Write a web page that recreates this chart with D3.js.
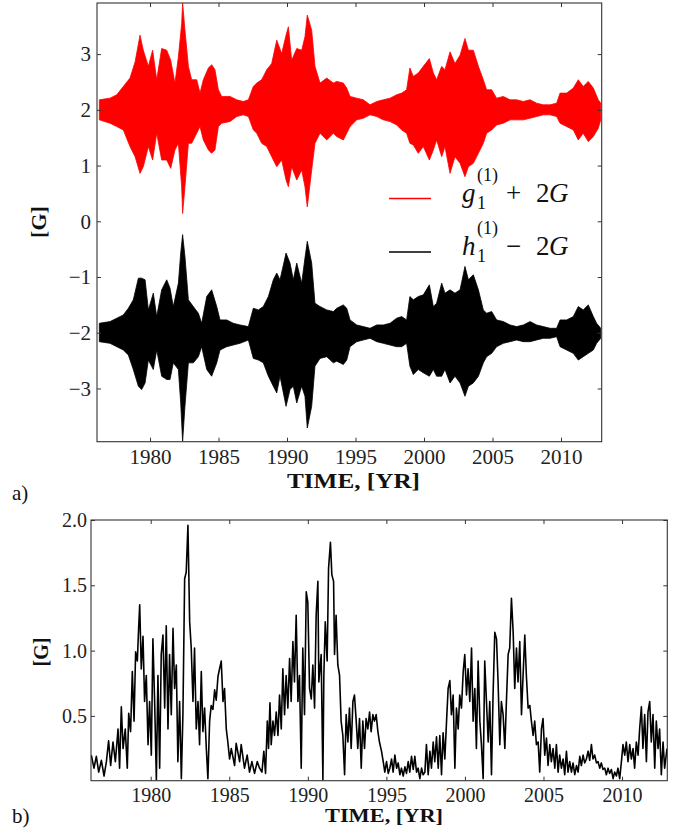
<!DOCTYPE html>
<html>
<head>
<meta charset="utf-8">
<script src="https://cdn.jsdelivr.net/npm/d3@7"></script>
<style>
body { margin: 0; background: #fff; }
#canvas svg { display: block; }
</style>
</head>
<body>
<div id="canvas"></div>
<script>
// ----------------------------------------------------------
// DATA -----------------------------------------------------
// ----------------------------------------------------------

// panel a) : envelope (upper / lower) of g1 + 2G
var gYears = [1976.30,1977.08,1977.57,1978.05,1978.54,1978.91,1979.27,1979.51,1979.88,1980.19,
1980.49,1980.85,1981.22,1981.51,1981.82,1982.07,1982.31,1982.38,1982.55,1982.80,
1983.04,1983.41,1983.65,1983.89,1984.26,1984.50,1984.74,1984.99,1985.23,1985.84,
1986.33,1986.81,1987.18,1987.54,1987.79,1988.15,1988.52,1988.88,1989.25,1989.61,
1989.93,1990.10,1990.34,1990.71,1991.07,1991.31,1991.48,1991.80,1992.04,1992.41,
1992.90,1993.38,1993.63,1994.11,1994.36,1994.60,1995.09,1995.57,1996.06,1996.55,
1997.03,1997.52,1998.00,1998.37,1998.73,1998.97,1999.22,1999.58,1999.95,2000.39,
2000.68,2000.92,2001.29,2001.53,2001.90,2002.26,2002.63,2002.99,2003.24,2003.60,
2003.97,2004.33,2004.57,2004.94,2005.30,2005.79,2006.28,2006.76,2007.25,2007.74,
2008.22,2008.71,2009.20,2009.68,2009.93,2010.41,2010.90,2011.26,2011.62,2011.99,
2012.36,2012.72,2012.90];
var gHi = [2.18,2.21,2.27,2.42,2.57,2.86,3.34,3.07,2.78,3.07,
2.54,3.10,3.07,2.89,2.48,2.95,3.55,3.92,3.43,2.78,
2.54,2.54,2.30,2.54,2.75,2.81,2.72,2.36,2.24,2.24,
2.18,2.15,2.18,2.42,2.48,2.54,2.72,2.83,3.25,3.01,
3.34,3.49,2.89,3.10,3.07,3.31,3.70,3.43,2.78,2.48,
2.57,2.48,2.51,2.48,2.39,2.24,2.21,2.18,2.09,2.15,
2.18,2.21,2.27,2.30,2.36,2.75,2.60,2.66,2.78,2.92,
2.66,2.54,2.78,2.72,3.04,2.83,2.98,3.28,3.07,3.07,
2.78,2.54,2.36,2.36,2.21,2.24,2.18,2.18,2.15,2.18,
2.12,2.09,2.09,2.12,2.30,2.30,2.39,2.54,2.42,2.51,
2.39,2.18,2.12];
var gLo = [1.82,1.76,1.70,1.64,1.34,1.16,0.86,0.98,1.34,1.10,
1.58,1.10,1.10,0.95,1.28,1.40,0.62,0.14,0.62,1.40,
1.40,1.58,1.70,1.46,1.28,1.22,1.28,1.70,1.76,1.79,
1.88,1.91,1.88,1.64,1.58,1.40,1.34,1.16,0.98,1.10,
0.74,0.62,0.98,0.74,0.92,0.62,0.26,0.92,1.40,1.58,
1.46,1.58,1.52,1.46,1.58,1.70,1.82,1.85,1.91,1.88,
1.82,1.79,1.73,1.64,1.58,1.40,1.37,1.22,1.34,1.10,
1.28,1.46,1.16,1.34,0.86,1.16,1.04,0.80,0.98,1.04,
1.22,1.40,1.58,1.64,1.73,1.76,1.82,1.82,1.82,1.85,
1.88,1.91,1.91,1.88,1.76,1.70,1.64,1.46,1.58,1.43,
1.52,1.67,1.82];

// panel a) : envelope of h1 - 2G
var hYears = [1976.30,1977.08,1977.57,1978.05,1978.42,1978.78,1979.15,1979.39,1979.64,1979.88,
1980.24,1980.49,1980.85,1981.22,1981.46,1981.70,1982.07,1982.24,1982.38,1982.55,
1982.80,1983.16,1983.53,1983.77,1984.14,1984.50,1984.87,1985.11,1985.60,1986.08,
1986.57,1987.18,1987.54,1987.91,1988.27,1988.64,1989.00,1989.25,1989.49,1989.93,
1990.22,1990.46,1990.71,1991.07,1991.31,1991.48,1991.80,1992.04,1992.41,1992.90,
1993.38,1993.63,1994.11,1994.36,1994.60,1995.09,1995.57,1996.06,1996.55,1997.03,
1997.52,1998.00,1998.37,1998.73,1998.97,1999.22,1999.58,1999.95,2000.39,2000.68,
2000.92,2001.29,2001.53,2001.90,2002.26,2002.63,2002.99,2003.24,2003.60,2003.97,
2004.33,2004.57,2004.94,2005.30,2005.79,2006.28,2006.76,2007.25,2007.74,2008.22,
2008.71,2009.20,2009.68,2009.93,2010.41,2010.90,2011.26,2011.62,2011.99,2012.36,
2012.60,2012.90];
var hHi = [-1.83,-1.80,-1.74,-1.68,-1.56,-1.41,-1.02,-1.02,-1.05,-1.59,
-1.29,-1.71,-1.23,-1.05,-1.20,-1.53,-1.11,-0.57,-0.24,-0.63,
-1.41,-1.53,-1.65,-1.83,-1.35,-1.23,-1.53,-1.77,-1.77,-1.83,
-1.86,-1.89,-1.56,-1.59,-1.53,-1.35,-1.05,-0.93,-1.05,-0.57,
-0.75,-1.05,-0.75,-1.11,-0.66,-0.36,-0.75,-1.47,-1.53,-1.59,
-1.62,-1.56,-1.50,-1.56,-1.77,-1.86,-1.89,-1.92,-1.86,-1.86,
-1.83,-1.74,-1.71,-1.77,-1.35,-1.41,-1.35,-1.32,-1.14,-1.53,
-1.47,-1.11,-1.29,-1.23,-1.29,-1.23,-0.81,-1.05,-0.96,-1.23,
-1.59,-1.65,-1.62,-1.77,-1.80,-1.86,-1.89,-1.86,-1.80,-1.86,
-1.89,-1.92,-1.92,-1.77,-1.77,-1.71,-1.53,-1.59,-1.50,-1.71,
-1.83,-1.92];
var hLo = [-2.16,-2.19,-2.25,-2.31,-2.40,-2.66,-2.96,-3.02,-2.90,-2.49,
-2.66,-2.31,-2.78,-2.84,-2.84,-2.54,-2.66,-3.26,-3.95,-3.32,
-2.54,-2.54,-2.43,-2.25,-2.66,-2.78,-2.54,-2.31,-2.25,-2.22,
-2.19,-2.13,-2.46,-2.49,-2.54,-2.78,-2.96,-3.08,-2.78,-3.32,
-3.02,-2.96,-3.26,-2.96,-3.14,-3.71,-3.32,-2.60,-2.46,-2.43,
-2.54,-2.51,-2.57,-2.49,-2.25,-2.16,-2.13,-2.10,-2.16,-2.19,
-2.22,-2.25,-2.25,-2.19,-2.60,-2.75,-2.66,-2.72,-2.78,-2.66,
-2.78,-2.78,-2.66,-2.90,-2.78,-2.90,-3.14,-2.96,-2.90,-2.78,
-2.54,-2.43,-2.37,-2.25,-2.19,-2.16,-2.13,-2.16,-2.16,-2.13,
-2.10,-2.10,-2.07,-2.25,-2.31,-2.37,-2.49,-2.43,-2.37,-2.31,
-2.19,-2.10];

// panel b) : amplitude [year, G], peaks and troughs
var bSeries = [
[1976.22,0.20],[1976.39,0.10],[1976.54,0.19],[1976.69,0.07],[1976.86,0.16],[1977.03,0.04],[1977.18,0.15],[1977.32,0.31],
[1977.45,0.12],[1977.60,0.30],[1977.75,0.15],[1977.92,0.40],[1978.02,0.10],[1978.13,0.57],[1978.24,0.25],[1978.38,0.40],
[1978.51,0.10],[1978.60,0.52],[1978.72,0.38],[1978.83,0.84],[1978.94,0.46],[1979.04,0.99],[1979.15,0.92],[1979.23,1.17],
[1979.30,1.35],[1979.40,0.86],[1979.51,1.11],[1979.61,0.61],[1979.72,0.81],[1979.83,0.28],[1979.93,0.61],[1980.04,0.20],
[1980.14,1.09],[1980.25,0.61],[1980.36,0.01],[1980.46,0.81],[1980.57,0.10],[1980.67,0.97],[1980.78,1.12],[1980.89,0.56],
[1980.99,1.19],[1981.10,0.40],[1981.20,0.97],[1981.31,0.51],[1981.42,1.17],[1981.52,0.71],[1981.63,0.89],[1981.73,0.15],
[1981.84,0.61],[1981.95,0.02],[1982.05,0.51],[1982.16,1.55],[1982.26,1.60],[1982.37,1.96],[1982.48,1.22],[1982.58,1.02],
[1982.69,0.61],[1982.79,1.02],[1982.90,0.40],[1983.01,0.61],[1983.11,0.28],[1983.22,0.84],[1983.32,0.38],[1983.43,0.56],
[1983.54,0.25],[1983.64,0.02],[1983.75,0.46],[1983.85,0.58],[1983.96,0.55],[1984.07,0.70],[1984.17,0.62],[1984.28,0.80],
[1984.38,0.86],[1984.49,0.92],[1984.60,0.61],[1984.70,0.71],[1984.81,0.40],[1984.91,0.30],[1985.02,0.17],[1985.13,0.25],
[1985.34,0.12],[1985.44,0.29],[1985.66,0.15],[1985.76,0.28],[1985.97,0.10],[1986.14,0.20],[1986.29,0.07],[1986.44,0.15],
[1986.61,0.06],[1986.78,0.15],[1986.93,0.10],[1987.08,0.07],[1987.20,0.23],[1987.31,0.06],[1987.42,0.46],[1987.50,0.25],
[1987.59,0.60],[1987.67,0.28],[1987.78,0.46],[1987.88,0.35],[1987.99,0.53],[1988.10,0.35],[1988.20,0.66],[1988.31,0.40],
[1988.41,0.86],[1988.52,0.51],[1988.62,0.81],[1988.73,0.56],[1988.84,0.94],[1988.94,0.61],[1989.05,1.07],[1989.15,0.76],
[1989.26,1.27],[1989.37,0.61],[1989.47,0.81],[1989.58,0.10],[1989.68,1.02],[1989.79,0.51],[1989.90,1.45],[1990.00,1.37],
[1990.11,0.71],[1990.22,0.63],[1990.32,0.89],[1990.43,0.56],[1990.53,1.27],[1990.64,1.53],[1990.70,0.76],[1990.85,0.97],
[1990.96,0.01],[1991.02,0.81],[1991.11,1.22],[1991.23,0.92],[1991.32,1.63],[1991.44,1.83],[1991.53,1.58],[1991.64,1.53],
[1991.70,0.97],[1991.80,1.27],[1991.91,0.89],[1992.02,0.81],[1992.12,0.46],[1992.23,0.35],[1992.34,0.05],[1992.44,0.51],
[1992.55,0.30],[1992.65,0.56],[1992.76,0.25],[1992.87,0.61],[1992.97,0.66],[1993.08,0.46],[1993.18,0.25],[1993.29,0.48],
[1993.40,0.10],[1993.50,0.46],[1993.61,0.25],[1993.71,0.48],[1993.82,0.40],[1993.93,0.53],[1994.03,0.38],[1994.14,0.51],
[1994.24,0.46],[1994.35,0.51],[1994.46,0.38],[1994.56,0.30],[1994.69,0.23],[1994.80,0.15],[1994.90,0.07],[1995.01,0.15],
[1995.12,0.06],[1995.22,0.10],[1995.33,0.17],[1995.43,0.07],[1995.54,0.20],[1995.65,0.10],[1995.75,0.14],[1995.86,0.05],
[1995.96,0.10],[1996.07,0.04],[1996.18,0.11],[1996.28,0.06],[1996.39,0.15],[1996.49,0.07],[1996.60,0.19],[1996.71,0.09],
[1996.81,0.19],[1996.92,0.07],[1997.02,0.10],[1997.13,0.02],[1997.24,0.10],[1997.34,0.05],[1997.45,0.07],[1997.55,0.28],
[1997.66,0.05],[1997.77,0.23],[1997.87,0.10],[1997.98,0.30],[1998.08,0.15],[1998.19,0.34],[1998.30,0.10],[1998.40,0.35],
[1998.51,0.05],[1998.61,0.37],[1998.72,0.17],[1998.83,0.46],[1998.93,0.71],[1999.04,0.77],[1999.14,0.51],[1999.25,0.66],
[1999.36,0.10],[1999.46,0.56],[1999.57,0.40],[1999.67,0.66],[1999.78,0.56],[1999.89,0.84],[1999.99,0.97],[2000.10,0.66],
[2000.20,0.86],[2000.31,0.61],[2000.42,1.02],[2000.52,0.46],[2000.63,0.71],[2000.73,0.25],[2000.84,0.92],[2000.95,0.46],
[2001.05,0.28],[2001.16,0.02],[2001.26,0.92],[2001.37,0.61],[2001.48,0.30],[2001.58,0.61],[2001.69,0.05],[2001.79,0.66],
[2001.90,1.14],[2002.01,1.09],[2002.11,0.76],[2002.22,0.28],[2002.32,0.61],[2002.43,0.51],[2002.54,0.25],[2002.64,0.61],
[2002.75,0.97],[2002.85,1.02],[2002.96,1.40],[2003.07,1.14],[2003.17,0.71],[2003.28,1.02],[2003.38,0.76],[2003.49,1.07],
[2003.60,0.51],[2003.70,0.81],[2003.81,1.12],[2003.91,0.81],[2004.02,0.56],[2004.13,0.58],[2004.23,0.46],[2004.34,0.35],
[2004.44,0.46],[2004.55,0.28],[2004.66,0.30],[2004.76,0.07],[2004.87,0.40],[2004.97,0.48],[2005.08,0.20],[2005.19,0.33],
[2005.29,0.12],[2005.40,0.28],[2005.50,0.15],[2005.61,0.25],[2005.72,0.10],[2005.82,0.28],[2005.93,0.07],[2006.03,0.20],
[2006.14,0.10],[2006.25,0.17],[2006.35,0.05],[2006.46,0.23],[2006.56,0.07],[2006.67,0.15],[2006.78,0.07],[2006.88,0.14],
[2006.99,0.05],[2007.10,0.12],[2007.20,0.07],[2007.31,0.19],[2007.41,0.12],[2007.52,0.20],[2007.62,0.14],[2007.73,0.17],
[2007.84,0.23],[2007.94,0.16],[2008.05,0.28],[2008.15,0.17],[2008.26,0.20],[2008.37,0.14],[2008.47,0.15],[2008.58,0.10],
[2008.68,0.14],[2008.79,0.09],[2008.90,0.10],[2009.00,0.05],[2009.11,0.10],[2009.21,0.06],[2009.32,0.09],[2009.43,0.02],
[2009.53,0.07],[2009.64,0.04],[2009.74,0.10],[2009.85,0.02],[2009.96,0.15],[2010.06,0.28],[2010.17,0.20],[2010.27,0.30],
[2010.38,0.15],[2010.49,0.28],[2010.59,0.17],[2010.70,0.25],[2010.80,0.10],[2010.91,0.30],[2011.02,0.20],[2011.12,0.40],
[2011.23,0.57],[2011.33,0.25],[2011.44,0.51],[2011.55,0.15],[2011.65,0.53],[2011.76,0.61],[2011.86,0.30],[2011.97,0.51],
[2012.08,0.10],[2012.18,0.46],[2012.29,0.25],[2012.39,0.40],[2012.50,0.05],[2012.61,0.30],[2012.71,0.10],[2012.86,0.25]
];

// tick labels
var xTicks = [1980, 1985, 1990, 1995, 2000, 2005, 2010];
var aYTicks = [-3, -2, -1, 0, 1, 2, 3];
var bYTicks = [0.5, 1.0, 1.5, 2.0];

var seriesColor = { g: "#ff0000", h: "#000000" };

var FONT = "'Liberation Serif', 'Times New Roman', Times, 'DejaVu Serif', serif";


// ----------------------------------------------------------
// STRUCTURE ------------------------------------------------
// ----------------------------------------------------------
var W = 687, H = 834;
var pa = { left: 97, right: 601.7, top: 3, bottom: 441.7 };
var pb = { left: 91, right: 667.3, top: 520, bottom: 780.7 };

var container = d3.select("#canvas").append("svg")
.attr("width", W)
.attr("height", H)
.attr("font-family", FONT)
.style("background-color", "#fff");

var defs = container.append("defs");
defs.append("clipPath").attr("id", "clipA").append("rect")
.attr("x", pa.left).attr("y", pa.top)
.attr("width", pa.right - pa.left).attr("height", pa.bottom - pa.top);
defs.append("clipPath").attr("id", "clipB").append("rect")
.attr("x", pb.left).attr("y", pb.top)
.attr("width", pb.right - pb.left).attr("height", pb.bottom - pb.top);

// scales
var xA = d3.scaleLinear().domain([1976.13, 2012.97]).range([pa.left, pa.right]);
var yA = d3.scaleLinear().domain([-3.955, 3.917]).range([pa.bottom, pa.top]);
var xB = d3.scaleLinear().domain([1976.20, 2012.88]).range([pb.left, pb.right]);
var yB = d3.scaleLinear().domain([0.004, 2.0]).range([pb.bottom, pb.top]);


// ----------------------------------------------------------
// GFX ------------------------------------------------------
// ----------------------------------------------------------

// helper: frame with inward ticks on all four sides
function drawFrame(box, xs, ys, xt, yt, fmt, fs, yPad, xBase) {
  var g = container.append("g").attr("class", "frame");
  var tick = 4;

  g.append("g").attr("transform", `translate(0, ${box.bottom})`)
  .call(d3.axisBottom(xs).tickValues(xt).tickSize(-tick).tickFormat(d3.format("d")))
  .call((s) => s.selectAll("text").attr("y", xBase).attr("dy", 0));

  g.append("g").attr("transform", `translate(0, ${box.top})`)
  .call(d3.axisTop(xs).tickValues(xt).tickSize(-tick).tickFormat(""));

  g.append("g").attr("transform", `translate(${box.left}, 0)`)
  .call(d3.axisLeft(ys).tickValues(yt).tickSize(-tick).tickFormat(fmt))
  .call((s) => s.selectAll("text").attr("x", -yPad));

  g.append("g").attr("transform", `translate(${box.right}, 0)`)
  .call(d3.axisRight(ys).tickValues(yt).tickSize(-tick).tickFormat(""));

  g.selectAll("g").attr("font-family", FONT).attr("font-size", fs);
  g.selectAll(".tick text").attr("fill", "#222");
  g.selectAll(".domain").remove();
  g.selectAll(".tick line").attr("stroke", "#333").attr("stroke-width", 1);

  g.append("rect")
  .attr("x", box.left).attr("y", box.top)
  .attr("width", box.right - box.left).attr("height", box.bottom - box.top)
  .attr("fill", "none").attr("stroke", "#333").attr("stroke-width", 1.1);
}

// PANEL A --------------------------------------------------
var gRows = gYears.map((t, i) => ({ t: t, hi: gHi[i], lo: gLo[i] }));
var hRows = hYears.map((t, i) => ({ t: t, hi: hHi[i], lo: hLo[i] }));

var bandA = d3.area()
.x((d) => xA(d.t))
.y0((d) => yA(d.lo))
.y1((d) => yA(d.hi));

var plotA = container.append("g").attr("clip-path", "url(#clipA)");

[[gRows, seriesColor.g], [hRows, seriesColor.h]].forEach(function (s) {
  plotA.append("path")
  .datum(s[0])
  .attr("d", bandA)
  .attr("fill", s[1])
  .attr("stroke", s[1])
  .attr("stroke-width", 0.8)
  .attr("stroke-linejoin", "miter");
});

drawFrame(pa, xA, yA, xTicks, aYTicks, d3.format("d"), 21, 6, 22);

// legend
var legend = container.append("g").attr("class", "legend")
.attr("font-family", FONT).attr("fill", "#111");

[
{ y: 198.5, color: seriesColor.g, letter: "g", op: "+" },
{ y: 252, color: seriesColor.h, letter: "h", op: "\u2212" }
].forEach(function (e) {
  legend.append("line")
  .attr("x1", 389).attr("x2", 431)
  .attr("y1", e.y).attr("y2", e.y)
  .attr("stroke", e.color).attr("stroke-width", 1.3);

  var base = e.y + 3;
  legend.append("text").attr("x", 462).attr("y", base)
  .attr("font-size", 27).attr("font-style", "italic").text(e.letter);
  legend.append("text").attr("x", 477).attr("y", base - 21)
  .attr("font-size", 18).text("(1)");
  legend.append("text").attr("x", 477).attr("y", base + 7)
  .attr("font-size", 18).text("1");
  legend.append("text").attr("x", 506).attr("y", base)
  .attr("font-size", 27).text(e.op);
  legend.append("text").attr("x", 536).attr("y", base)
  .attr("font-size", 27).text("2");
  legend.append("text").attr("x", 549).attr("y", base)
  .attr("font-size", 27).attr("font-style", "italic").text("G");
});

// PANEL B --------------------------------------------------
var lineB = d3.line()
.x((d) => xB(d[0]))
.y((d) => yB(d[1]));

container.append("g").attr("clip-path", "url(#clipB)")
.append("path")
.datum(bSeries)
.attr("d", lineB)
.attr("fill", "none")
.attr("stroke", "#000")
.attr("stroke-width", 1.6)
.attr("stroke-linejoin", "round");

drawFrame(pb, xB, yB, xTicks, bYTicks, d3.format(".1f"), 20, 4, 21);


// ----------------------------------------------------------
// TEXT -----------------------------------------------------
// ----------------------------------------------------------
var text_group = container.append("g")
.attr("font-family", FONT)
.attr("fill", "#111");

text_group.append("text")
.attr("x", 287).attr("y", 488)
.attr("textLength", 133).attr("lengthAdjust", "spacingAndGlyphs")
.attr("font-size", 21).attr("font-weight", "bold")
.text("TIME, [YR]");

text_group.append("text")
.attr("x", 325).attr("y", 822)
.attr("textLength", 118).attr("lengthAdjust", "spacingAndGlyphs")
.attr("font-size", 19).attr("font-weight", "bold")
.text("TIME, [YR]");

text_group.append("text")
.attr("transform", "translate(46, 222) rotate(-90)")
.attr("text-anchor", "middle")
.attr("font-size", 22).attr("font-weight", "bold")
.text("[G]");

text_group.append("text")
.attr("transform", "translate(48, 652) rotate(-90)")
.attr("text-anchor", "middle")
.attr("font-size", 20).attr("font-weight", "bold")
.text("[G]");

text_group.append("text").attr("x", 12).attr("y", 500)
.attr("font-size", 21).text("a)");
text_group.append("text").attr("x", 12).attr("y", 823)
.attr("font-size", 21).text("b)");
</script>
</body>
</html>
